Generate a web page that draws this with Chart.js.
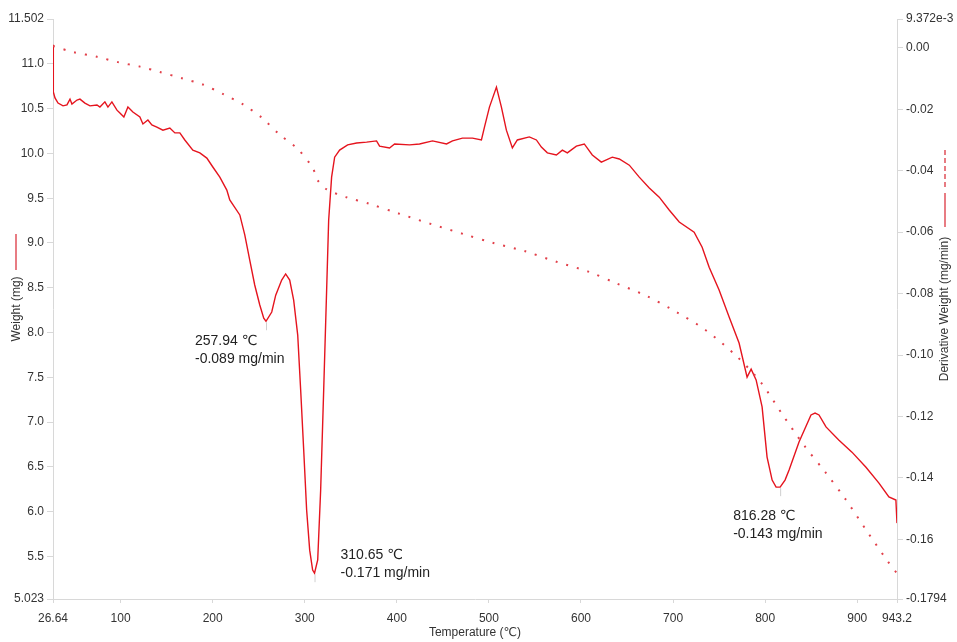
<!DOCTYPE html>
<html>
<head>
<meta charset="utf-8">
<script src="https://cdn.jsdelivr.net/npm/chart.js@4/dist/chart.umd.min.js"></script>
<style>
  html, body { margin: 0; padding: 0; background: #fff; }
  #wrap { width: 957px; height: 642px; }
</style>
</head>
<body>
<div id="wrap"><canvas id="tga"></canvas></div>
<script>
// 温度轴 / 刻度
const xTickValues = [26.64, 100, 200, 300, 400, 500, 600, 700, 800, 900, 943.2];
const xTickLabels = ['26.64', '100', '200', '300', '400', '500', '600', '700', '800', '900', '943.2'];
const weightTickValues = [5.023, 5.5, 6.0, 6.5, 7.0, 7.5, 8.0, 8.5, 9.0, 9.5, 10.0, 10.5, 11.0, 11.502];
const weightTickLabels = ['5.023', '5.5', '6.0', '6.5', '7.0', '7.5', '8.0', '8.5', '9.0', '9.5', '10.0', '10.5', '11.0', '11.502'];
const derivTickValues = [-0.1794, -0.16, -0.14, -0.12, -0.10, -0.08, -0.06, -0.04, -0.02, 0.00, 0.009372];
const derivTickLabels = ['-0.1794', '-0.16', '-0.14', '-0.12', '-0.10', '-0.08', '-0.06', '-0.04', '-0.02', '0.00', '9.372e-3'];

// 失重曲线 (mg)
const weightTemp = [26.64, 49.4, 74.4, 97.1, 121.0, 142.7, 166.6, 189.3, 212.1, 232.7,
  253.3, 272.8, 292.4, 308.6, 314.1, 323.8, 345.5, 369.4, 401.9, 437.7,
  472.4, 504.9, 538.6, 573.3, 608.0, 638.3, 670.9, 703.4, 734.9, 768.5,
  795.6, 818.4, 842.2, 866.1, 887.8, 910.6, 933.4, 943.2];
const weightMg = [11.20, 11.13, 11.08, 11.02, 10.97, 10.91, 10.84, 10.77, 10.66, 10.55,
  10.40, 10.21, 10.05, 9.84, 9.70, 9.60, 9.51, 9.44, 9.33, 9.21,
  9.10, 9.00, 8.91, 8.79, 8.68, 8.55, 8.41, 8.23, 8.03, 7.74,
  7.44, 7.09, 6.74, 6.43, 6.13, 5.78, 5.44, 5.31];

// 微分曲线 (mg/min)
const derivTemp = [26.64, 27.0, 28.8, 32.1, 37.5, 41.8, 45.1, 47.2, 52.7, 55.9,
  61.3, 66.8, 74.4, 77.6, 83.0, 86.3, 90.6, 96.1, 99.3, 103.6,
  108.0, 113.4, 121.0, 124.3, 129.7, 134.0, 139.4, 146.0, 153.5, 159.0,
  164.4, 169.8, 178.5, 186.1, 193.7, 200.2, 207.8, 215.4, 218.6, 229.5,
  234.9, 240.3, 245.7, 251.2, 255.5, 257.94, 264.2, 268.5, 275.0, 279.3,
  283.7, 288.0, 292.4, 295.6, 298.9, 302.1, 305.4, 308.6, 310.65, 314.1,
  317.3, 320.6, 323.8, 326.0, 329.2, 332.5, 337.9, 346.6, 356.4, 367.2,
  378.0, 381.3, 392.1, 397.6, 413.9, 424.7, 438.8, 454.0, 460.5, 471.3,
  482.2, 491.9, 495.2, 500.6, 508.2, 513.6, 519.0, 525.5, 530.9, 543.9,
  551.6, 557.0, 563.5, 573.3, 579.8, 585.2, 595.0, 603.6, 612.3, 622.1,
  634.0, 641.6, 652.5, 663.3, 674.2, 685.0, 695.8, 706.7, 722.9, 731.6,
  739.2, 750.0, 760.9, 771.7, 780.4, 784.8, 790.2, 796.7, 802.1, 807.6,
  811.9, 816.28, 821.6, 826.0, 836.8, 849.8, 854.2, 858.5, 866.1, 880.2,
  894.3, 909.5, 923.6, 934.4, 942.0, 943.2];
const derivRate = [0.001, -0.0144, -0.0163, -0.0180, -0.0189, -0.0186, -0.0167, -0.0183, -0.0170, -0.0167,
  -0.0180, -0.0189, -0.0186, -0.0193, -0.0176, -0.0193, -0.0176, -0.0203, -0.0212, -0.0225,
  -0.0193, -0.0209, -0.0225, -0.0248, -0.0235, -0.0251, -0.0258, -0.0268, -0.0261, -0.0277,
  -0.0277, -0.0300, -0.0333, -0.0342, -0.0359, -0.0388, -0.0421, -0.0463, -0.0495, -0.0544,
  -0.0609, -0.0691, -0.0772, -0.0837, -0.0880, -0.0890, -0.0860, -0.0805, -0.0756, -0.0736,
  -0.0756, -0.0821, -0.0935, -0.1114, -0.1309, -0.1505, -0.1635, -0.1700, -0.1710, -0.1667,
  -0.1440, -0.1114, -0.0788, -0.0561, -0.0421, -0.0356, -0.0333, -0.0316, -0.0310, -0.0307,
  -0.0303, -0.0320, -0.0326, -0.0313, -0.0316, -0.0313, -0.0303, -0.0313, -0.0303, -0.0294,
  -0.0294, -0.0300, -0.0258, -0.0193, -0.0128, -0.0193, -0.0268, -0.0326, -0.0300, -0.0290,
  -0.0300, -0.0323, -0.0342, -0.0349, -0.0333, -0.0342, -0.0320, -0.0313, -0.0349, -0.0372,
  -0.0356, -0.0362, -0.0382, -0.0421, -0.0456, -0.0486, -0.0528, -0.0567, -0.0600, -0.0649,
  -0.0714, -0.0788, -0.0876, -0.0961, -0.1072, -0.1046, -0.1081, -0.1169, -0.1332, -0.1407,
  -0.1430, -0.1430, -0.1407, -0.1374, -0.1283, -0.1195, -0.1189, -0.1195, -0.1234, -0.1277,
  -0.1316, -0.1365, -0.1417, -0.1462, -0.1472, -0.1547];

// 峰值标注
const peakTemps = [257.94, 310.65, 816.28];
const peakRates = [-0.089, -0.171, -0.143];

const FONT = '"Liberation Sans", Arial, "DejaVu Sans", sans-serif';
const RED = '#e5141e';
const DOT_RED = '#e2404a';
const AXIS_GRAY = '#d8d8d8';
const TEXT = '#333';

// 标注文字、轴标题和轴旁的线型图例
const extrasPlugin = {
  id: 'extras',
  afterDraw(chart) {
    const { ctx, chartArea, scales } = chart;
    const x = scales.x, y1 = scales.y1;
    const offsets = [[-71, 20], [26, -18], [-47, 29]];
    ctx.save();
    ctx.font = '14px ' + FONT;
    ctx.fillStyle = '#222';
    ctx.textBaseline = 'middle';
    ctx.textAlign = 'left';
    peakTemps.forEach((t, i) => {
      const px = x.getPixelForValue(t);
      const py = y1.getPixelForValue(peakRates[i]);
      // 峰位小竖线
      ctx.strokeStyle = '#cfcfcf';
      ctx.lineWidth = 1;
      ctx.beginPath();
      ctx.moveTo(px + 0.5, py + 1);
      ctx.lineTo(px + 0.5, py + 9);
      ctx.stroke();
      const [dx, dy] = offsets[i];
      ctx.fillText(t.toFixed(2) + ' ℃', px + dx, py + dy);
      ctx.fillText(peakRates[i].toFixed(3) + ' mg/min', px + dx, py + dy + 18);
    });

    const midY = (chartArea.top + chartArea.bottom) / 2;
    ctx.font = '12px ' + FONT;
    ctx.fillStyle = TEXT;
    ctx.textAlign = 'center';
    ctx.fillText('Temperature (℃)', (chartArea.left + chartArea.right) / 2, 633);

    ctx.save();
    ctx.translate(17, midY);
    ctx.rotate(-Math.PI / 2);
    ctx.fillText('Weight (mg)', 0, 0);
    ctx.restore();

    ctx.save();
    ctx.translate(945, midY);
    ctx.rotate(-Math.PI / 2);
    ctx.fillText('Derivative Weight (mg/min)', 0, 0);
    ctx.restore();

    // 左侧图例线
    ctx.strokeStyle = '#e0505a';
    ctx.lineWidth = 1.5;
    ctx.beginPath();
    ctx.moveTo(16, 234);
    ctx.lineTo(16, 270);
    ctx.stroke();
    // 右侧图例线：虚线 + 实线
    ctx.setLineDash([5, 3]);
    ctx.beginPath();
    ctx.moveTo(945, 150);
    ctx.lineTo(945, 190);
    ctx.stroke();
    ctx.setLineDash([]);
    ctx.beginPath();
    ctx.moveTo(945, 193);
    ctx.lineTo(945, 227);
    ctx.stroke();
    ctx.restore();
  }
};

const tickFont = { family: FONT, size: 12 };

new Chart(document.getElementById('tga'), {
  type: 'line',
  data: {
    datasets: [
      {
        label: 'Weight (mg)',
        data: weightTemp.map((t, i) => ({ x: t, y: weightMg[i] })),
        yAxisID: 'y',
        borderColor: DOT_RED,
        borderWidth: 2,
        borderDash: [2, 9],
        borderCapStyle: 'butt',
        pointRadius: 0,
        tension: 0.3,
        fill: false
      },
      {
        label: 'Derivative Weight (mg/min)',
        data: derivTemp.map((t, i) => ({ x: t, y: derivRate[i] })),
        yAxisID: 'y1',
        borderColor: RED,
        borderWidth: 1.4,
        pointRadius: 0,
        tension: 0,
        fill: false
      }
    ]
  },
  options: {
    responsive: true,
    maintainAspectRatio: false,
    animation: false,
    layout: { padding: { top: 19, left: 0, right: 0, bottom: 0 } },
    plugins: {
      legend: { display: false },
      tooltip: { enabled: false },
      title: { display: false }
    },
    scales: {
      x: {
        type: 'linear',
        min: 26.64,
        max: 943.2,
        afterFit: (s) => { s.height = 43; },
        afterBuildTicks: (s) => { s.ticks = xTickValues.map(v => ({ value: v })); },
        grid: { drawOnChartArea: false, color: AXIS_GRAY, tickLength: 4 },
        border: { color: AXIS_GRAY },
        ticks: {
          autoSkip: false, maxRotation: 0, padding: 8,
          color: TEXT, font: tickFont,
          callback: (v, i) => xTickLabels[i]
        }
      },
      y: {
        type: 'linear',
        position: 'left',
        min: 5.023,
        max: 11.502,
        afterFit: (s) => { s.width = 53; },
        afterBuildTicks: (s) => { s.ticks = weightTickValues.map(v => ({ value: v })); },
        grid: { drawOnChartArea: false, color: AXIS_GRAY, tickLength: 6 },
        border: { color: AXIS_GRAY },
        ticks: {
          autoSkip: false, padding: 3,
          color: TEXT, font: tickFont,
          callback: (v, i) => weightTickLabels[i]
        }
      },
      y1: {
        type: 'linear',
        position: 'right',
        min: -0.1794,
        max: 0.009372,
        afterFit: (s) => { s.width = 60; },
        afterBuildTicks: (s) => { s.ticks = derivTickValues.map(v => ({ value: v })); },
        grid: { drawOnChartArea: false, color: AXIS_GRAY, tickLength: 6 },
        border: { color: AXIS_GRAY },
        ticks: {
          autoSkip: false, padding: 3,
          color: TEXT, font: tickFont,
          callback: (v, i) => derivTickLabels[i]
        }
      }
    }
  },
  plugins: [extrasPlugin]
});
</script>
</body>
</html>
